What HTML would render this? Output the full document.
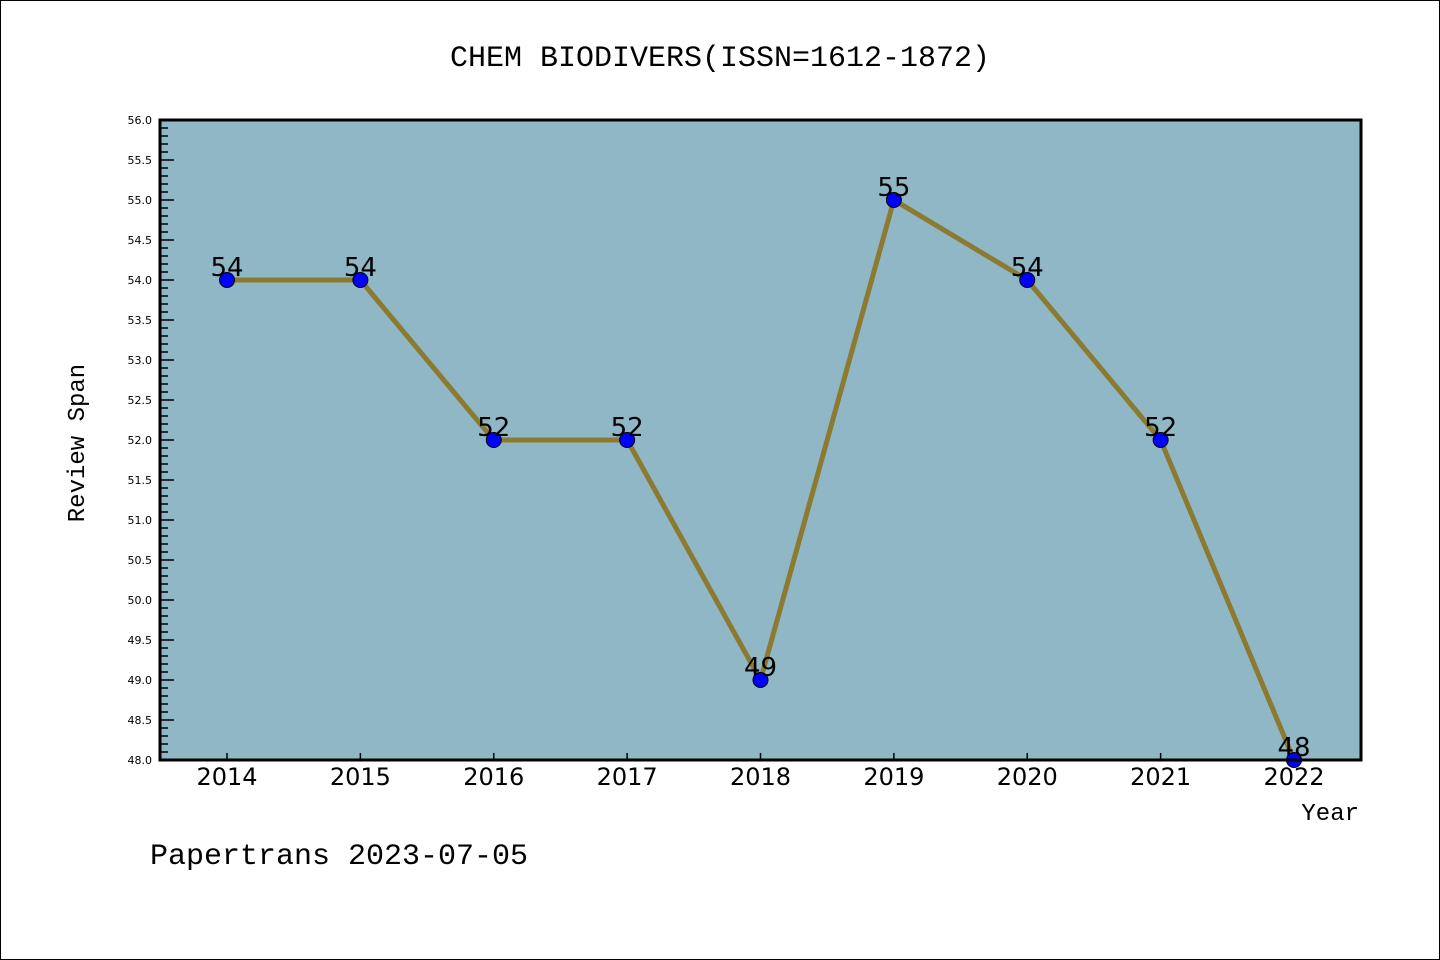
<!DOCTYPE html>
<html><head><meta charset="utf-8"><style>
html,body{margin:0;padding:0;background:#fff;}
svg{display:block;font-family:"Liberation Mono","DejaVu Sans Mono",monospace;}
</style></head><body>
<svg id="chart" width="1440" height="960" viewBox="0 0 1440 960">
<rect x="0.5" y="0.5" width="1439" height="959" fill="#fff" stroke="#000"/>
<text x="720" y="66" text-anchor="middle" font-size="30">CHEM BIODIVERS(ISSN=1612-1872)</text>
<rect x="160" y="120" width="1201" height="640" fill="#8fb7c5"/>
<g id="yticks"></g><g id="xticks"></g>
<g id="series"></g>
<rect x="160" y="120" width="1201" height="640" fill="none" stroke="#000" stroke-width="3"/>
<text transform="translate(84,443) rotate(-90)" text-anchor="middle" font-size="24">Review Span</text>
<text x="1359" y="820" text-anchor="end" font-size="24">Year</text>
<text x="150" y="864" font-size="30">Papertrans 2023-07-05</text>
</svg>
<script>
const years=["2014","2015","2016","2017","2018","2019","2020","2021","2022"];
const values=[54,54,52,52,49,55,54,52,48];
const yMin=48, yMax=56;
const NS="http://www.w3.org/2000/svg";
function X(i){return 227+i*(1294-227)/8;}
function Y(v){return 760-(v-yMin)*(640/(yMax-yMin));}
function mk(t,a,p){const e=document.createElementNS(NS,t);for(const k in a)e.setAttribute(k,a[k]);p.appendChild(e);return e;}
const yt=document.getElementById('yticks');
for(let k=0;k<=80;k++){const v=yMin+k*0.1;const major=k%5===0;
const l=mk('line',{x1:160,x2:160+(major?14:8),y1:Y(v),y2:Y(v),stroke:'#000','stroke-width':1.5},yt);


if(major){const t=mk('text',{x:152,y:Y(v)+4,'text-anchor':'end','font-size':11,'font-family':'DejaVu Sans, sans-serif'},yt);t.textContent=v.toFixed(1);

}}
const xt=document.getElementById('xticks');
years.forEach((y,i)=>{const l=mk('line',{x1:X(i),x2:X(i),y1:760,y2:753,stroke:'#000','stroke-width':1.5},xt);


const t=mk('text',{x:X(i),y:785,'text-anchor':'middle','font-size':24,'font-family':'DejaVu Sans, sans-serif'},xt);t.textContent=y;

});
const s=document.getElementById('series');
const pl=mk('polyline',{points:values.map((v,i)=>X(i)+','+Y(v)).join(' '),fill:'none',stroke:'#8c7a30','stroke-width':5},s);


values.forEach((v,i)=>{const c=mk('circle',{cx:X(i),cy:Y(v),r:7.5,fill:'#0000ff',stroke:'#000','stroke-width':1},s);


const t=mk('text',{x:X(i),y:Y(v)-4,'text-anchor':'middle','font-size':26,'font-family':'DejaVu Sans, sans-serif'},s);t.textContent=v;

});
</script>
</body></html>
